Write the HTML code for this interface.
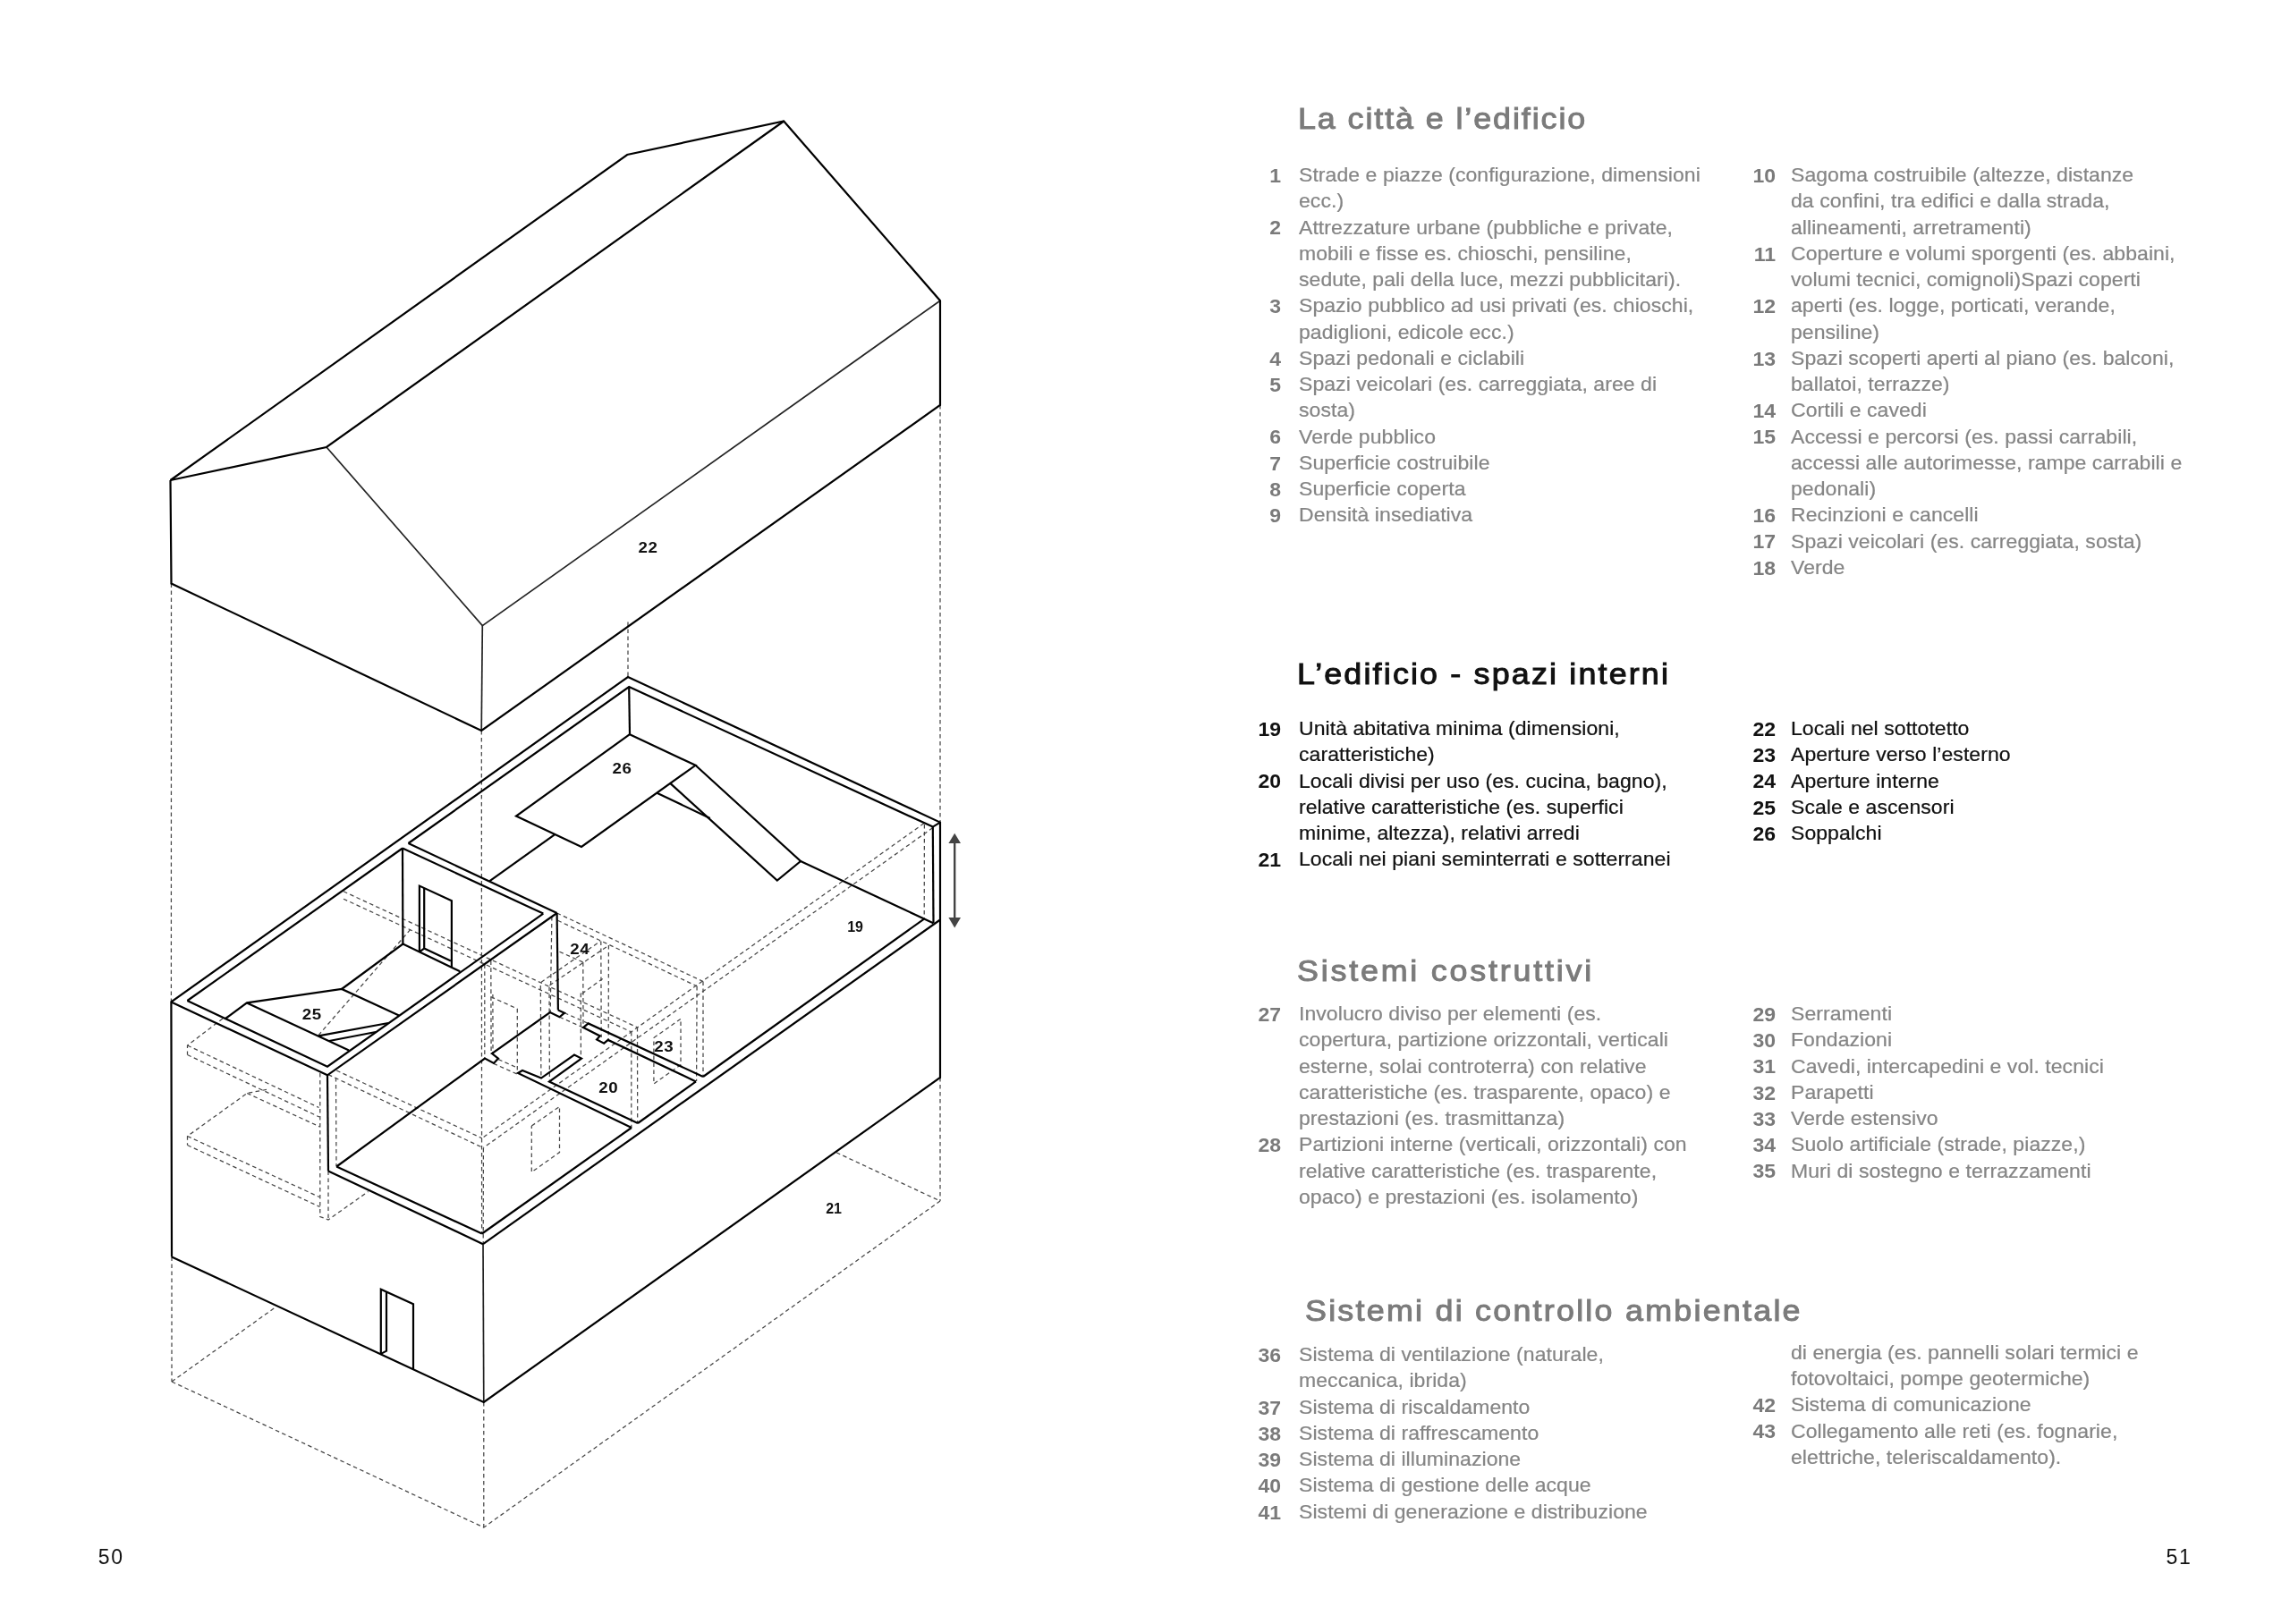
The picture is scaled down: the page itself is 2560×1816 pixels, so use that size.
<!DOCTYPE html>
<html lang="it"><head><meta charset="utf-8"><title>Spread 50-51</title>
<style>
html,body{margin:0;padding:0;background:#fff}
body{width:2560px;height:1816px;position:relative;overflow:hidden;font-family:"Liberation Sans",sans-serif}
.pn{font-size:23px;line-height:23px;letter-spacing:1.6px}
.t,.n,.h,.pn{position:absolute;white-space:nowrap;font-family:"Liberation Sans",sans-serif}
.t{font-size:21.6px;line-height:21.6px;letter-spacing:0.06px;transform:scaleX(1.06481);transform-origin:0 0;-webkit-text-stroke:0.22px currentColor}
.n{font-size:22.0px;line-height:22.0px;font-weight:bold;width:60px;text-align:right;transform:scaleX(1.04545);transform-origin:100% 0}
.h{font-size:33.5px;line-height:33.5px;font-weight:normal;-webkit-text-stroke:1.0px currentColor;transform:scaleX(1.07);transform-origin:0 0}
.g{color:#858585} .k{color:#111}
.n.g{color:#7a7a7a} .h.g{color:#7b7b7b}
svg{position:absolute;left:0;top:0}
#pg{position:absolute;left:0;top:0;width:2560px;height:1816px;will-change:transform;transform:translateZ(0)}
.lb{font-family:"Liberation Sans",sans-serif;font-weight:bold;font-size:16px;fill:#111;text-anchor:middle}
</style></head>
<body>
<div id="pg">
<svg width="2560" height="1816" viewBox="0 0 2560 1816" fill="none" stroke-linejoin="miter" stroke-linecap="butt">
<g stroke="#474747" stroke-width="1.25" stroke-dasharray="4.6 3.4">
<polyline points="191.5,652.5 191.4,1120.4"/>
<polyline points="192.0,1405.5 192.0,1545.0"/>
<polyline points="538.3,817.0 538.6,1379.5"/>
<polyline points="540.8,1568.0 540.8,1708.0"/>
<polyline points="702.0,695.5 702.0,757.0"/>
<polyline points="1051.0,453.0 1051.0,919.6"/>
<polyline points="1051.0,1205.0 1051.0,1343.0"/>
<polyline points="192.0,1545.0 540.8,1708.0 1051.0,1343.0"/>
<polyline points="192.0,1545.0 306.2,1463.0"/>
<polyline points="935.0,1288.8 1051.0,1343.0"/>
<polyline points="1033.0,920.6 538.8,1272.8"/>
<polyline points="1042.8,925.6 540.2,1283.6"/>
<polyline points="1033.4,922.0 1033.2,1027.0"/>
<polyline points="540.4,1284.0 540.2,1391.0"/>
<polyline points="376.2,1197.0 538.8,1272.8"/>
<polyline points="367.0,1201.6 540.2,1283.6"/>
<polyline points="375.5,1205.0 376.0,1304.5"/>
<polyline points="622.6,1021.0 786.0,1097.5"/>
<polyline points="623.5,1029.3 779.1,1102.8"/>
<polyline points="786.0,1097.5 786.0,1204.0"/>
<polyline points="779.1,1102.8 778.6,1209.0"/>
<polyline points="625.5,1064.3 652.1,1076.1"/>
<polyline points="651.8,1076.1 652.0,1149.1"/>
<polyline points="631.0,1132.7 657.6,1144.4"/>
<polyline points="625.5,1137.3 652.1,1149.1"/>
<polyline points="616.9,1025.0 615.2,1131.5"/>
<polyline points="384.0,996.8 713.3,1149.2"/>
<polyline points="384.0,1005.2 705.5,1153.8"/>
<polyline points="705.8,1153.8 705.8,1261.0"/>
<polyline points="712.5,1149.0 712.7,1256.0"/>
<polyline points="541.8,1078.3 541.8,1183.6"/>
<polyline points="548.8,1074.3 549.1,1179.0"/>
<polyline points="550.9,1112.0 551.0,1179.0"/>
<polyline points="578.3,1128.0 578.3,1200.0"/>
<polyline points="604.3,1102.0 604.9,1205.6"/>
<polyline points="614.0,1103.4 614.4,1209.6"/>
<polyline points="548.8,1114.7 578.3,1128.0"/>
<polyline points="557.2,1184.6 578.8,1194.2"/>
<polyline points="551.6,1189.2 578.3,1201.2"/>
<polyline points="604.8,1098.4 671.1,1052.5"/>
<polyline points="614.4,1101.8 680.7,1057.0"/>
<polyline points="671.8,1052.5 672.2,1160.0"/>
<polyline points="680.4,1057.0 680.2,1162.6"/>
<polyline points="649.3,1110.6 649.4,1184.0"/>
<polyline points="650.6,1111.2 674.7,1093.7"/>
<polyline points="594.3,1259.0 625.5,1237.4 625.5,1288.6 594.3,1310.7 594.3,1259.0"/>
<polyline points="730.9,1160.5 761.0,1139.3 761.0,1190.6 730.9,1212.0 730.9,1160.5"/>
<polyline points="356.0,1157.6 460.0,1038.0"/>
<polyline points="249.0,1139.0 209.5,1169.0 209.5,1179.5"/>
<polyline points="209.5,1169.0 356.5,1238.5"/>
<polyline points="209.5,1179.5 357.0,1249.0"/>
<polyline points="298.0,1218.4 276.2,1222.5 209.5,1270.5 209.5,1280.5"/>
<polyline points="209.5,1270.5 357.0,1338.5"/>
<polyline points="209.5,1280.5 357.5,1349.5"/>
<polyline points="276.2,1222.5 357.5,1260.0"/>
<polyline points="357.8,1200.0 357.8,1360.5 367.0,1364.0 411.5,1332.5"/>
<polyline points="367.0,1309.5 367.0,1364.0"/>
</g>
<g stroke="#242424" stroke-width="1.7">
<polyline points="365.0,500.0 539.3,699.6 1051.0,336.2"/>
<polyline points="539.3,699.6 538.2,817.0"/>
<polyline points="540.0,1391.2 540.8,1568.0"/>
</g>
<g stroke="#000" stroke-width="2.2">
<polyline points="190.5,537.0 191.5,652.5 538.2,817.0 1051.0,453.0 1051.0,336.2 876.2,135.5 701.2,173.0 190.5,537.0"/>
<polyline points="190.5,537.0 365.0,500.0 876.2,135.5"/>
<polyline points="192.0,1405.5 191.4,1120.4 702.0,757.0 1051.0,919.6 1051.0,1205.0 540.8,1568.0 192.0,1405.5"/>
<polyline points="209.4,1119.0 450.0,948.5"/>
<polyline points="456.5,943.0 703.2,768.0 1042.8,924.6 1051.0,919.6"/>
<polyline points="703.2,768.0 704.0,821.2"/>
<polyline points="1042.8,924.6 1043.5,1032.2"/>
<polyline points="450.0,948.5 607.3,1021.6"/>
<polyline points="456.5,943.0 622.6,1021.0"/>
<polyline points="209.4,1119.0 366.0,1192.7 607.3,1021.6"/>
<polyline points="191.4,1120.4 366.0,1202.3 622.6,1021.0"/>
<polyline points="366.0,1202.3 367.0,1309.5"/>
<polyline points="622.6,1021.0 623.9,1129.5"/>
<polyline points="450.0,948.5 450.4,1055.6"/>
<polyline points="514.2,1086.2 450.4,1055.6 382.0,1106.0"/>
<polyline points="252.0,1139.0 276.0,1121.4 382.0,1106.0 446.0,1135.5"/>
<polyline points="276.0,1121.4 390.0,1174.6"/>
<polyline points="356.0,1158.4 434.0,1144.0"/>
<polyline points="368.0,1164.0 420.0,1154.0"/>
<polyline points="468.9,1064.3 468.9,990.6 504.9,1007.3 504.9,1081.7"/>
<polyline points="474.2,993.1 474.2,1060.6 503.9,1074.5"/>
<polyline points="468.9,1064.3 474.2,1060.6"/>
<polyline points="704.0,821.2 777.5,855.8 650.0,947.0 577.0,912.5 704.0,821.2"/>
<polyline points="777.5,855.8 895.0,963.0 868.8,984.5 749.2,875.9"/>
<polyline points="734.5,886.8 793.8,915.0"/>
<polyline points="895.0,963.0 1043.3,1032.2"/>
<polyline points="547.5,985.2 619.9,933.3"/>
<polyline points="1051.0,1028.5 540.0,1391.2"/>
<polyline points="1033.0,1027.6 786.0,1204.0"/>
<polyline points="778.0,1209.4 713.0,1256.0"/>
<polyline points="706.0,1261.0 538.8,1379.5"/>
<polyline points="367.0,1309.5 540.0,1391.2"/>
<polyline points="376.2,1304.5 538.8,1379.5"/>
<polyline points="376.2,1304.5 542.0,1183.6 552.0,1189.0 557.0,1183.6 550.0,1178.0 614.9,1132.0 625.5,1137.3 631.0,1132.7 623.9,1129.5"/>
<polyline points="706.0,1261.0 579.0,1200.0 584.0,1197.0 605.0,1205.6 642.0,1179.6 650.0,1183.6 614.0,1209.6 713.0,1256.0"/>
<polyline points="786.0,1204.0 657.6,1144.4 652.1,1149.1 670.7,1158.4 667.1,1162.5 675.2,1166.7 679.7,1162.9 778.0,1209.4"/>
<polyline points="425.8,1513.9 425.8,1441.8 462.0,1458.2 462.0,1531.3"/>
<polyline points="432.0,1444.6 432.0,1510.6 425.8,1513.9"/>
</g>
<g fill="#444" stroke="none"><path d="M1067.2,931.7 L1074,943 L1060.4,943 Z"/><path d="M1067.2,1037.4 L1074,1026.1 L1060.4,1026.1 Z"/><rect x="1066" y="942" width="2.4" height="85"/></g>
<text class="lb" transform="translate(724.50,618.10) scale(1.17,1)" x="0" y="0" stroke="none" letter-spacing="0.5">22</text>
<text class="lb" transform="translate(695.50,865.20) scale(1.17,1)" x="0" y="0" stroke="none" letter-spacing="0.5">26</text>
<text class="lb" transform="translate(955.90,1041.80) scale(1.0,1)" x="0" y="0" stroke="none" letter-spacing="-0.3">19</text>
<text class="lb" transform="translate(742.25,1175.60) scale(1.17,1)" x="0" y="0" stroke="none" letter-spacing="0.5">23</text>
<text class="lb" transform="translate(680.25,1222.10) scale(1.17,1)" x="0" y="0" stroke="none" letter-spacing="0.5">20</text>
<text class="lb" transform="translate(648.25,1067.10) scale(1.17,1)" x="0" y="0" stroke="none" letter-spacing="0.5">24</text>
<text class="lb" transform="translate(348.75,1139.60) scale(1.17,1)" x="0" y="0" stroke="none" letter-spacing="0.5">25</text>
<text class="lb" transform="translate(931.90,1356.60) scale(1.0,1)" x="0" y="0" stroke="none" letter-spacing="-0.3">21</text>
</svg>
<div class="h g" style="left:1451.40px;top:116.14px;letter-spacing:1.79px">La città e l’edificio</div>
<div class="h k" style="left:1450.20px;top:736.64px;letter-spacing:2.03px">L’edificio - spazi interni</div>
<div class="h g" style="left:1450.40px;top:1068.64px;letter-spacing:2.61px">Sistemi costruttivi</div>
<div class="h g" style="left:1459.20px;top:1448.64px;letter-spacing:2.1px">Sistemi di controllo ambientale</div>
<div class="t g" style="left:1452.00px;top:185.02px">Strade e piazze (configurazione, dimensioni</div>
<div class="n g" style="left:1372.40px;top:185.88px">1</div>
<div class="t g" style="left:1452.00px;top:214.27px">ecc.)</div>
<div class="t g" style="left:1452.00px;top:243.52px">Attrezzature urbane (pubbliche e private,</div>
<div class="n g" style="left:1372.40px;top:244.38px">2</div>
<div class="t g" style="left:1452.00px;top:272.77px">mobili e fisse es. chioschi, pensiline,</div>
<div class="t g" style="left:1452.00px;top:302.02px">sedute, pali della luce, mezzi pubblicitari).</div>
<div class="t g" style="left:1452.00px;top:331.27px">Spazio pubblico ad usi privati (es. chioschi,</div>
<div class="n g" style="left:1372.40px;top:332.13px">3</div>
<div class="t g" style="left:1452.00px;top:360.52px">padiglioni, edicole ecc.)</div>
<div class="t g" style="left:1452.00px;top:389.77px">Spazi pedonali e ciclabili</div>
<div class="n g" style="left:1372.40px;top:390.63px">4</div>
<div class="t g" style="left:1452.00px;top:419.02px">Spazi veicolari (es. carreggiata, aree di</div>
<div class="n g" style="left:1372.40px;top:419.88px">5</div>
<div class="t g" style="left:1452.00px;top:448.27px">sosta)</div>
<div class="t g" style="left:1452.00px;top:477.52px">Verde pubblico</div>
<div class="n g" style="left:1372.40px;top:478.38px">6</div>
<div class="t g" style="left:1452.00px;top:506.77px">Superficie costruibile</div>
<div class="n g" style="left:1372.40px;top:507.63px">7</div>
<div class="t g" style="left:1452.00px;top:536.02px">Superficie coperta</div>
<div class="n g" style="left:1372.40px;top:536.88px">8</div>
<div class="t g" style="left:1452.00px;top:565.27px">Densità insediativa</div>
<div class="n g" style="left:1372.40px;top:566.13px">9</div>
<div class="t g" style="left:2002.40px;top:185.02px">Sagoma costruibile (altezze, distanze</div>
<div class="n g" style="left:1925.00px;top:185.88px">10</div>
<div class="t g" style="left:2002.40px;top:214.27px">da confini, tra edifici e dalla strada,</div>
<div class="t g" style="left:2002.40px;top:243.52px">allineamenti, arretramenti)</div>
<div class="t g" style="left:2002.40px;top:272.77px">Coperture e volumi sporgenti (es. abbaini,</div>
<div class="n g" style="left:1925.00px;top:273.63px">11</div>
<div class="t g" style="left:2002.40px;top:302.02px">volumi tecnici, comignoli)Spazi coperti</div>
<div class="t g" style="left:2002.40px;top:331.27px">aperti (es. logge, porticati, verande,</div>
<div class="n g" style="left:1925.00px;top:332.13px">12</div>
<div class="t g" style="left:2002.40px;top:360.52px">pensiline)</div>
<div class="t g" style="left:2002.40px;top:389.77px">Spazi scoperti aperti al piano (es. balconi,</div>
<div class="n g" style="left:1925.00px;top:390.63px">13</div>
<div class="t g" style="left:2002.40px;top:419.02px">ballatoi, terrazze)</div>
<div class="t g" style="left:2002.40px;top:448.27px">Cortili e cavedi</div>
<div class="n g" style="left:1925.00px;top:449.13px">14</div>
<div class="t g" style="left:2002.40px;top:477.52px">Accessi e percorsi (es. passi carrabili,</div>
<div class="n g" style="left:1925.00px;top:478.38px">15</div>
<div class="t g" style="left:2002.40px;top:506.77px">accessi alle autorimesse, rampe carrabili e</div>
<div class="t g" style="left:2002.40px;top:536.02px">pedonali)</div>
<div class="t g" style="left:2002.40px;top:565.27px">Recinzioni e cancelli</div>
<div class="n g" style="left:1925.00px;top:566.13px">16</div>
<div class="t g" style="left:2002.40px;top:594.52px">Spazi veicolari (es. carreggiata, sosta)</div>
<div class="n g" style="left:1925.00px;top:595.38px">17</div>
<div class="t g" style="left:2002.40px;top:623.77px">Verde</div>
<div class="n g" style="left:1925.00px;top:624.63px">18</div>
<div class="t k" style="left:1452.00px;top:804.02px">Unità abitativa minima (dimensioni,</div>
<div class="n k" style="left:1372.40px;top:804.88px">19</div>
<div class="t k" style="left:1452.00px;top:833.27px">caratteristiche)</div>
<div class="t k" style="left:1452.00px;top:862.52px">Locali divisi per uso (es. cucina, bagno),</div>
<div class="n k" style="left:1372.40px;top:863.38px">20</div>
<div class="t k" style="left:1452.00px;top:891.77px">relative caratteristiche (es. superfici</div>
<div class="t k" style="left:1452.00px;top:921.02px">minime, altezza), relativi arredi</div>
<div class="t k" style="left:1452.00px;top:950.27px">Locali nei piani seminterrati e sotterranei</div>
<div class="n k" style="left:1372.40px;top:951.13px">21</div>
<div class="t k" style="left:2002.40px;top:804.02px">Locali nel sottotetto</div>
<div class="n k" style="left:1925.00px;top:804.88px">22</div>
<div class="t k" style="left:2002.40px;top:833.27px">Aperture verso l’esterno</div>
<div class="n k" style="left:1925.00px;top:834.13px">23</div>
<div class="t k" style="left:2002.40px;top:862.52px">Aperture interne</div>
<div class="n k" style="left:1925.00px;top:863.38px">24</div>
<div class="t k" style="left:2002.40px;top:891.77px">Scale e ascensori</div>
<div class="n k" style="left:1925.00px;top:892.63px">25</div>
<div class="t k" style="left:2002.40px;top:921.02px">Soppalchi</div>
<div class="n k" style="left:1925.00px;top:921.88px">26</div>
<div class="t g" style="left:1452.00px;top:1123.02px">Involucro diviso per elementi (es.</div>
<div class="n g" style="left:1372.40px;top:1123.88px">27</div>
<div class="t g" style="left:1452.00px;top:1152.27px">copertura, partizione orizzontali, verticali</div>
<div class="t g" style="left:1452.00px;top:1181.52px">esterne, solai controterra) con relative</div>
<div class="t g" style="left:1452.00px;top:1210.77px">caratteristiche (es. trasparente, opaco) e</div>
<div class="t g" style="left:1452.00px;top:1240.02px">prestazioni (es. trasmittanza)</div>
<div class="t g" style="left:1452.00px;top:1269.27px">Partizioni interne (verticali, orizzontali) con</div>
<div class="n g" style="left:1372.40px;top:1270.13px">28</div>
<div class="t g" style="left:1452.00px;top:1298.52px">relative caratteristiche (es. trasparente,</div>
<div class="t g" style="left:1452.00px;top:1327.77px">opaco) e prestazioni (es. isolamento)</div>
<div class="t g" style="left:2002.40px;top:1123.02px">Serramenti</div>
<div class="n g" style="left:1925.00px;top:1123.88px">29</div>
<div class="t g" style="left:2002.40px;top:1152.27px">Fondazioni</div>
<div class="n g" style="left:1925.00px;top:1153.13px">30</div>
<div class="t g" style="left:2002.40px;top:1181.52px">Cavedi, intercapedini e vol. tecnici</div>
<div class="n g" style="left:1925.00px;top:1182.38px">31</div>
<div class="t g" style="left:2002.40px;top:1210.77px">Parapetti</div>
<div class="n g" style="left:1925.00px;top:1211.63px">32</div>
<div class="t g" style="left:2002.40px;top:1240.02px">Verde estensivo</div>
<div class="n g" style="left:1925.00px;top:1240.88px">33</div>
<div class="t g" style="left:2002.40px;top:1269.27px">Suolo artificiale (strade, piazze,)</div>
<div class="n g" style="left:1925.00px;top:1270.13px">34</div>
<div class="t g" style="left:2002.40px;top:1298.52px">Muri di sostegno e terrazzamenti</div>
<div class="n g" style="left:1925.00px;top:1299.38px">35</div>
<div class="t g" style="left:1452.00px;top:1504.22px">Sistema di ventilazione (naturale,</div>
<div class="n g" style="left:1372.40px;top:1505.08px">36</div>
<div class="t g" style="left:1452.00px;top:1533.47px">meccanica, ibrida)</div>
<div class="t g" style="left:1452.00px;top:1562.72px">Sistema di riscaldamento</div>
<div class="n g" style="left:1372.40px;top:1563.58px">37</div>
<div class="t g" style="left:1452.00px;top:1591.97px">Sistema di raffrescamento</div>
<div class="n g" style="left:1372.40px;top:1592.83px">38</div>
<div class="t g" style="left:1452.00px;top:1621.22px">Sistema di illuminazione</div>
<div class="n g" style="left:1372.40px;top:1622.08px">39</div>
<div class="t g" style="left:1452.00px;top:1650.47px">Sistema di gestione delle acque</div>
<div class="n g" style="left:1372.40px;top:1651.33px">40</div>
<div class="t g" style="left:1452.00px;top:1679.72px">Sistemi di generazione e distribuzione</div>
<div class="n g" style="left:1372.40px;top:1680.58px">41</div>
<div class="t g" style="left:2002.40px;top:1501.82px">di energia (es. pannelli solari termici e</div>
<div class="t g" style="left:2002.40px;top:1531.07px">fotovoltaici, pompe geotermiche)</div>
<div class="t g" style="left:2002.40px;top:1560.32px">Sistema di comunicazione</div>
<div class="n g" style="left:1925.00px;top:1561.18px">42</div>
<div class="t g" style="left:2002.40px;top:1589.57px">Collegamento alle reti (es. fognarie,</div>
<div class="n g" style="left:1925.00px;top:1590.43px">43</div>
<div class="t g" style="left:2002.40px;top:1618.82px">elettriche, teleriscaldamento).</div>
<div class="pn k" style="left:109.8px;top:1730.33px">50</div>
<div class="pn k" style="left:2421.6px;top:1730.33px">51</div>
</div>
</body></html>
